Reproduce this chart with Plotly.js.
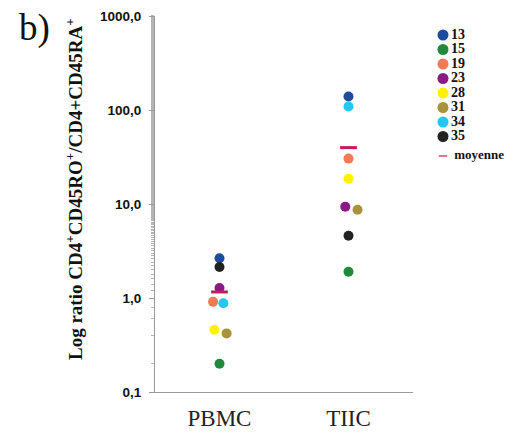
<!DOCTYPE html>
<html>
<head>
<meta charset="utf-8">
<script src="https://cdn.plot.ly/plotly-3.0.1.min.js"></script>
<style>html,body{margin:0;padding:0;background:#fff;}#chart{width:515px;height:434px;}</style>
</head>
<body>
<div id="chart"></div>
<script>
// ---- data ----
var groups = ['PBMC', 'TIIC'];
var patients = ['13', '15', '19', '23', '28', '31', '34', '35'];
var pbmcValues = [2.65, 0.20, 0.91, 1.28, 0.46, 0.42, 0.88, 2.14];
var tiicValues = [139, 1.9, 30.4, 9.35, 18.6, 8.7, 109, 4.6];
var meanValues = [1.16, 39.8];
var meanLabel = 'moyenne';
var yTickVals = [0.1, 1, 10, 100, 1000];
var yTickText = ['0,1', '1,0', '10,0', '100,0', '1000,0'];
var colors = ['#1d4c9c', '#1f8a3c', '#f27a55', '#8c1a86', '#fff200', '#a8933c', '#25c6ef', '#222222'];
var meanColor = '#c8195c';

// small horizontal offsets (category units) to separate overlapping dots
var pbmcJitter = [0, 0, -0.05, 0, -0.04, 0.055, 0.03, 0];
var tiicJitter = [0, 0, 0, -0.025, 0, 0.07, 0, 0];

var W = 515, H = 434;
var plotL = 155, plotR = 413, plotT = 16, plotB = 392;

var traces = [];
patients.forEach(function (p, i) {
  traces.push({
    type: 'scatter', mode: 'markers', name: p, showlegend: false,
    x: [0 + pbmcJitter[i], 1 + tiicJitter[i]],
    y: [pbmcValues[i], tiicValues[i]],
    marker: { color: colors[i], size: 10, opacity: 1, line: { width: 0 } },
    xaxis: 'x', yaxis: 'y'
  });
});
traces.push({
  type: 'scatter', mode: 'markers', name: meanLabel, showlegend: false,
  x: [0, 1], y: meanValues,
  marker: { symbol: 'line-ew', size: 12, line: { color: meanColor, width: 3 } },
  xaxis: 'x', yaxis: 'y'
});

// custom legend drawn on an overlay axis pair
var legNames = patients.concat([meanLabel]);
var legY = patients.map(function (p, i) { return i; }).concat([patients.length + 0.34]);
traces.push({
  type: 'scatter', mode: 'markers+text', showlegend: false, hoverinfo: 'skip',
  x: legNames.map(function () { return 0; }), y: legY,
  text: legNames.map(function (n) { return n === meanLabel ? '  ' + n : n; }),
  textposition: 'middle right',
  textfont: { family: 'Liberation Serif', size: legNames.map(function (n) { return n === meanLabel ? 13 : 14; }), weight: 'bold', color: '#111' },
  marker: {
    opacity: 1,
    color: colors.concat(['rgba(0,0,0,0)']),
    size: legNames.map(function (n) { return n === meanLabel ? 6 : 11; }),
    symbol: legNames.map(function (n) { return n === meanLabel ? 'line-ew' : 'circle'; }),
    line: { color: legNames.map(function (n) { return n === meanLabel ? '#e0708f' : 'rgba(0,0,0,0)'; }), width: legNames.map(function (n) { return n === meanLabel ? 2 : 0; }) }
  },
  xaxis: 'x2', yaxis: 'y2', cliponaxis: false
});

var legTop = 35, legStep = 14.5;

var layout = {
  width: W, height: H,
  margin: { l: 0, r: 0, t: 0, b: 0 },
  paper_bgcolor: '#fff', plot_bgcolor: '#fff',
  showlegend: false,
  xaxis: {
    domain: [plotL / W, plotR / W],
    range: [-0.5, 1.5],
    tickvals: [0, 1], ticktext: groups,
    showgrid: false, zeroline: false,
    showline: true, linecolor: '#9a9a9a', linewidth: 1,
    ticks: '', ticklabelstandoff: 5,
    tickfont: { family: 'Liberation Serif', size: 23, color: '#222' }
  },
  yaxis: {
    domain: [(H - plotB) / H, (H - plotT) / H],
    type: 'log', range: [-1, 3],
    tickvals: yTickVals, ticktext: yTickText,
    showgrid: false, zeroline: false,
    showline: true, linecolor: '#9a9a9a', linewidth: 1,
    ticks: 'outside', ticklen: 5, tickcolor: '#9a9a9a',
    minor: { ticks: 'outside', ticklen: 3, tickcolor: '#b5b5b5', showgrid: false },
    ticklabelstandoff: 5,
    tickfont: { family: 'Liberation Sans', size: 13.5, weight: 'bold', color: '#111' }
  },
  xaxis2: {
    domain: [443 / W, 1], range: [0, 1], visible: false, fixedrange: true
  },
  yaxis2: {
    domain: [0, 1], range: [(H - legTop) / legStep, -legTop / legStep],
    visible: false, fixedrange: true
  },
  annotations: [
    {
      text: 'Log ratio CD4<sup>+</sup>CD45RO<sup>+</sup>/CD4+CD45RA<sup>+</sup>',
      xref: 'paper', yref: 'paper',
      x: 74 / W, y: (H - 189) / H, xanchor: 'center', yanchor: 'middle',
      textangle: -90, showarrow: false,
      font: { family: 'Liberation Serif', size: 19, weight: 'bold', color: '#111' }
    },
    {
      text: 'b)', xref: 'paper', yref: 'paper',
      x: 34 / W, y: (H - 28) / H, xanchor: 'center', yanchor: 'middle',
      showarrow: false,
      font: { family: 'Liberation Serif', size: 37, color: '#111' }
    }
  ]
};

Plotly.newPlot('chart', traces, layout, { displayModeBar: false, staticPlot: true });
</script>
</body>
</html>
